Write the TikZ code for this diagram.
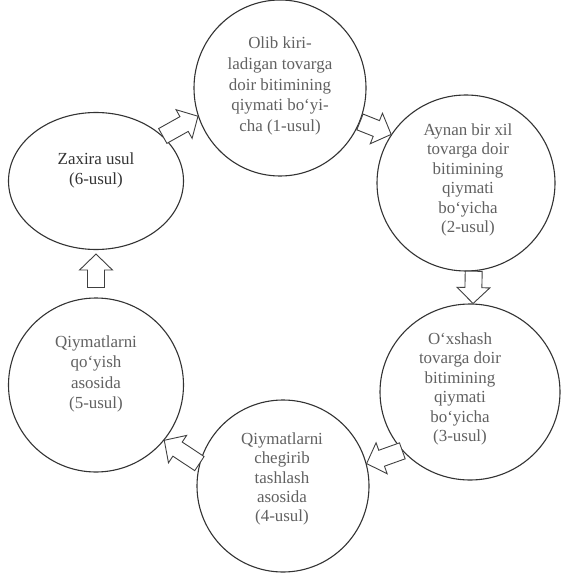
\documentclass[tikz,border=0pt]{standalone}
\usepackage{fontspec}
\setmainfont{Liberation Serif}
\usetikzlibrary{calc,shapes.geometric}
\newcommand\mkbarrow[3]{%
  \coordinate (#3t) at (#1);
  \coordinate (#3p) at (#2);
  \coordinate (#3h) at ($(#3p)!16pt!(#3t)$);
  \draw[barrow] ($(#3t)!8.5pt!90:(#3p)$) -- ($(#3h)!8.5pt!90:(#3p)$) -- ($(#3h)!16.5pt!90:(#3p)$) -- (#3p) -- ($(#3h)!16.5pt!-90:(#3p)$) -- ($(#3h)!8.5pt!-90:(#3p)$) -- ($(#3t)!8.5pt!-90:(#3p)$) -- cycle;
}
\begin{document}
\begin{tikzpicture}[x=1bp,y=-1bp,
  circ/.style={ellipse, draw=black!80, line width=1.1bp, inner sep=0pt},
  txt/.style={align=center, text=black!62, font=\fontsize{17}{19.5}\selectfont},
  barrow/.style={draw=black!75, line width=0.9bp, fill=white, line join=miter}]
\useasboundingbox (0,0) rectangle (565,573);
\fill[white] (0,0) rectangle (565,573);
% circles
\node[circ, minimum width=172bp, minimum height=176bp] (c1) at (280,88) {};
\node[circ, minimum width=178bp, minimum height=176bp] (c2) at (466,183) {};
\node[circ, minimum width=180bp, minimum height=176bp] (c3) at (470,392) {};
\node[circ, minimum width=172bp, minimum height=172bp] (c4) at (283,486) {};
\node[circ, minimum width=175bp, minimum height=174bp] (c5) at (96,385) {};
\node[circ, minimum width=175bp, minimum height=137bp] (c6) at (96,181) {};
% texts
\node[txt, font=\fontsize{17}{21}\selectfont] (t1) at (280,86) {Olib kiri-\\ladigan tovarga\\doir bitimining\\qiymati bo‘yi-\\cha (1-usul)};
\node[txt] (t2) at (468,180) {Aynan bir xil\\tovarga doir\\bitimining\\qiymati\\bo‘yicha\\(2-usul)};
\node[txt] (t3) at (460,389) {O‘xshash\\tovarga doir\\bitimining\\qiymati\\bo‘yicha\\(3-usul)};
\node[txt] (t4) at (282,479) {Qiymatlarni\\chegirib\\tashlash\\asosida\\(4-usul)};
\node[txt, font=\fontsize{17}{20.5}\selectfont] (t5) at (96,374) {Qiymatlarni\\qo‘yish\\asosida\\(5-usul)};
\node[txt, text=black!80, font=\fontsize{17}{20}\selectfont] (t6) at (96,170) {Zaxira usul\\(6-usul)};
% block arrows
\mkbarrow{c6.34}{c1.199}{a61}
\mkbarrow{c1.-23}{c2.147}{a12}
\mkbarrow{c2.-85}{c3.88}{a23}
\mkbarrow{c3.221}{c4.15}{a34}
\mkbarrow{c4.165}{c5.-39}{a45}
\mkbarrow{$(c5.north)!10bp!(c6.south)$}{$(c6.south)!4bp!(c5.north)$}{a56}
\end{tikzpicture}
\end{document}
